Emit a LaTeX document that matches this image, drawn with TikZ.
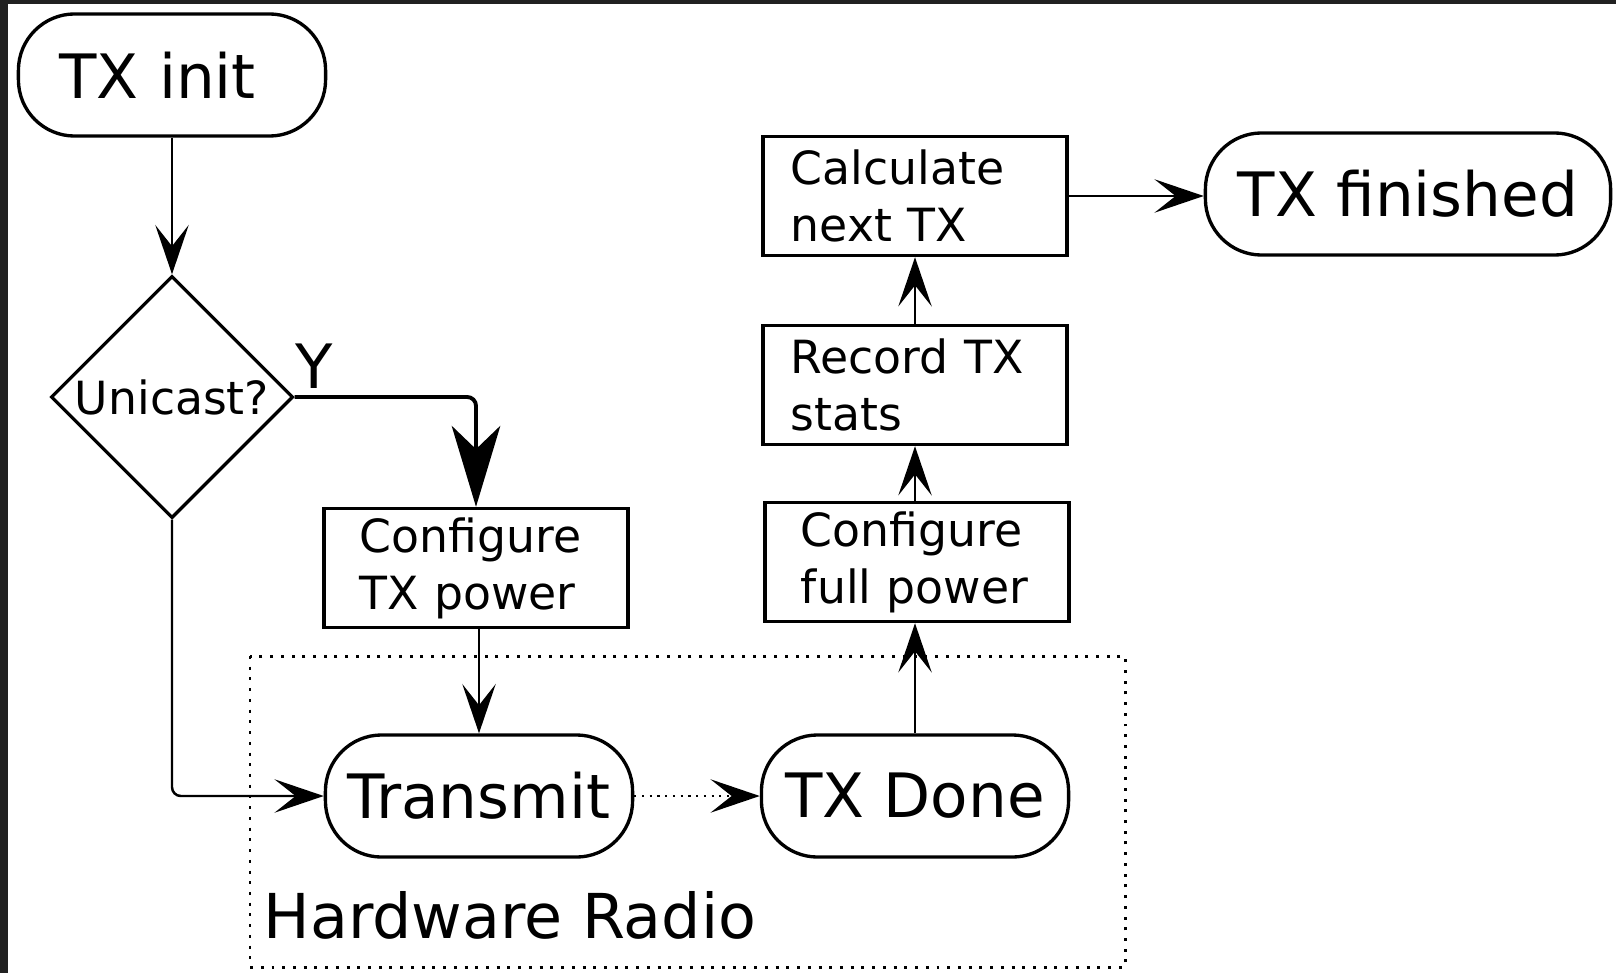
\documentclass[tikz,border=0pt]{standalone}
\usepackage{fontspec}
\setmainfont{DejaVu Sans}
\usetikzlibrary{arrows.meta,shapes.geometric}
\definecolor{framegray}{HTML}{212121}

\begin{document}
\begin{tikzpicture}[x=0.01cm,y=-0.01cm]
	\path [use as bounding box] (0,0) rectangle (1616,973);
	\fill[white] (0,0) rectangle (1616,973);
	\fill[framegray] (0,0) rectangle (8,973);
	\fill[framegray] (0,0) rectangle (1616,4);
	\tikzstyle{every node} = [font=\fontsize{13}{16.2}\selectfont]
	\tikzstyle{terminal} = [draw, line width=0.95pt, rounded corners=16pt, minimum height=1.22cm, font=\fontsize{17.4}{21}\selectfont]
	\tikzstyle{decision} = [draw, diamond, line width=0.95pt, minimum size=2.42cm, inner sep=0pt, shape aspect=1]
	\tikzstyle{procbox} = [draw, line width=0.95pt, minimum height=1.19cm, inner ysep=1pt, align=left]
	\tikzstyle{flow} = [line width=0.7pt, -{Stealth[length=14pt, width=9.5pt, inset=6pt]}]
	\tikzstyle{bigflow} = [line width=1.1pt, rounded corners=2.5pt, -{Stealth[length=23pt, width=13.8pt, inset=6.6pt]}]
	\node[terminal, text width=2.25cm, inner xsep=0.41cm, align=left] (init) at (172,75) {TX init};
	\node[decision] (dec) at (172,397) {Unicast?};
	\node[procbox, text width=2.32cm, inner xsep=0.36cm] (cfgtx) at (476,568) {Configure\\TX power};
	\node[terminal, minimum width=3.07cm] (tx) at (479,796) {Transmit};
	\node[terminal, minimum width=3.07cm] (done) at (915,796) {TX Done};
	\node[procbox, text width=2.32cm, inner xsep=0.36cm] (cfgfull) at (917,562) {Configure\\full power};
	\node[procbox, text width=2.48cm, inner xsep=0.28cm] (record) at (915,385) {Record TX\\stats};
	\node[procbox, text width=2.48cm, inner xsep=0.28cm] (calc) at (915,196) {Calculate\\next TX};
	\node[terminal, minimum width=4.05cm] (fin) at (1408,194) {TX finished};
	\node[font=\fontsize{17.4}{21}\selectfont] (ylabel) at (314,366) {Y};
	\node[font=\fontsize{17.6}{21}\selectfont, anchor=base west, inner sep=0pt] (hwlabel) at (263,938) {Hardware Radio};
	% radio part
	\draw[line width=0.85pt, dash pattern=on 0.85pt off 2.2pt] (250,656) rectangle (1125,967);
	\draw[flow] (init) -- (dec);
	\draw[bigflow] (dec.east) -| (cfgtx.north);
	\draw[flow] (cfgtx.south -| tx.north) -- (tx.north);
	\draw[flow, rounded corners=2.5pt] (dec.south) |- (tx.west);
	\draw[flow, dash pattern=on 0.6pt off 1.6pt] (tx) -- (done);
	\draw[flow] (done) -- (done |- cfgfull.south);
	\draw[flow] (cfgfull.north -| record.south) -- (record.south);
	\draw[flow] (record) -- (calc);
	\draw[flow] (calc) -- (calc -| fin.west);
\end{tikzpicture}
\end{document}
